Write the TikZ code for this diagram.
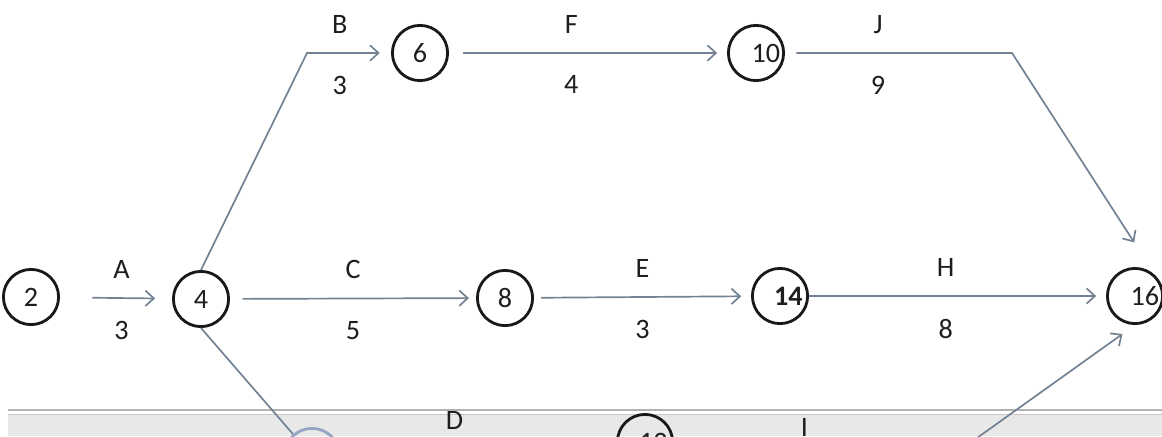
\documentclass[tikz,border=0pt]{standalone}
\usepackage{fontspec}
\setmainfont{Carlito}
\usetikzlibrary{arrows.meta}
\definecolor{edgec}{RGB}{115,130,146}
\definecolor{txtc}{RGB}{30,30,30}
\definecolor{hlc}{RGB}{150,165,198}
\tikzset{evt/.style={circle, draw=black!90, line width=2pt, minimum size=1.38cm, inner sep=0pt},
  act/.style={draw=edgec, line width=1.2pt, -{Straight Barb[length=6pt,width=11pt]}},
  lbup/.style={above=4mm, inner sep=2pt},
  lbdn/.style={below=4.8mm, inner sep=2pt}}

\begin{document}
\begin{tikzpicture}[x=0.025cm, y=-0.025cm, font=\fontsize{20}{24}\selectfont, text=txtc]
  \useasboundingbox (0,0) rectangle (1162,436);
  \clip (0,0) rectangle (1162,436);
  \fill[white] (0,0) rectangle (1162,436);
  % window edge at the bottom
  \fill[black!9] (8,414) rectangle (1162,436);
  \fill[black!30] (8,408.5) rectangle (1162,410.5);
  \fill[black!22] (8,413.5) rectangle (1162,415);

  \foreach \n/\x/\y/\lab/\sh in {2/31/297/2/0, 4/201/299/4/0, 6/420/53/6/0, 10/756/53/10/7,
      8/505/298/8/0, 14/780/296/\textbf{14}/6, 16/1135/296/16/7, 12/645/442/12/6}
    \node[evt, label={[xshift=\sh pt]center:\lab}] (n\n) at (\x,\y) {};
  \node[evt, draw=hlc] (n5) at (312,456) {};
  \coordinate (bk) at (307,53);
  \coordinate (jk) at (1012,53);
  \coordinate (n18) at (935,468);

  \draw[act, shorten <=23pt, shorten >=12pt] (n2) -- node[lbup, pos=0.55]{A} node[lbdn, pos=0.55]{3} (n4);
  \draw[act, shorten >=8pt] (n4.north) -- (bk) -- node[lbup, pos=0.39]{B} node[lbdn, pos=0.39]{3} (n6);
  \draw[act, shorten <=10pt, shorten >=7pt] (n6) -- node[lbup, pos=0.44]{F} node[lbdn, pos=0.44]{4} (n10);
  \draw[act, shorten <=8pt, shorten >=28pt] (n10) -- node[lbup, pos=0.41]{J} node[lbdn, pos=0.41]{9} (jk) -- (n16.north east);
  \draw[act, shorten <=9pt, shorten >=5pt] (n4) -- node[lbup]{C} node[lbdn]{5} (n8);
  \draw[act, shorten <=5pt, shorten >=7pt] (n8) -- node[lbup]{E} node[lbdn]{3} (n14);
  \draw[act, shorten >=7pt] (n14) -- node[lbup, pos=0.46]{H} node[lbdn, pos=0.46]{8} (n16);
  \draw[draw=edgec, line width=1.2pt] (n4.south) -- (n5);
  \draw[act, shorten >=6pt] (n5) -- node[above=6.4mm, inner sep=2pt, pos=0.4]{D} (n12.south west);
  \draw[act] (n12) -- node[lbup]{I} (n18);
  \draw[act, shorten >=11pt] (n18) -- (n16.south);
\end{tikzpicture}
\end{document}
